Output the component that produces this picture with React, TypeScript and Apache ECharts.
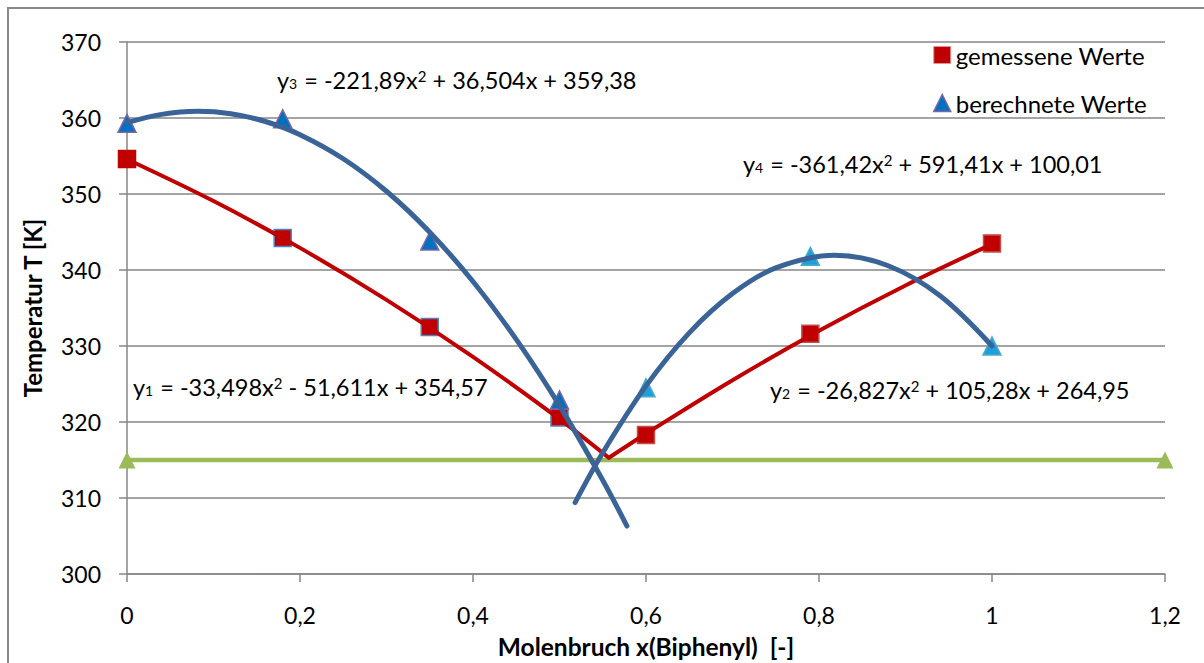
import React, { useEffect, useRef } from "react";
import * as echarts from "echarts";

// x ticks / axis range
const xTicks = [0, 0.2, 0.4, 0.6, 0.8, 1, 1.2];
const yTicks = [300, 310, 320, 330, 340, 350, 360, 370];

// measured values (red squares)
const measuredX = [0, 0.18, 0.35, 0.5, 0.6, 0.79, 1];
const measuredT = [354.6, 344.2, 332.5, 320.6, 318.3, 331.6, 343.5];

// calculated values (blue triangles)
const calcX = [0, 0.18, 0.35, 0.5, 0.6, 0.79, 1];
const calcT = [359.3, 359.9, 343.8, 322.9, 324.5, 341.8, 330.0];

// eutectic temperature line (green)
const eutX = [0, 1.2];
const eutT = [315, 315];

// trendlines
const trendY1X = [0, 0.1, 0.2, 0.3, 0.4, 0.5, 0.557];
const trendY1T = [354.57, 349.07, 342.91, 336.07, 328.57, 320.39, 315.3];
const trendY2X = [0.557, 0.6, 0.7, 0.8, 0.9, 1.0];
const trendY2T = [315.3, 318.46, 325.5, 332.01, 337.97, 343.4];
const trendY3X = [0, 0.04, 0.082, 0.12, 0.16, 0.2, 0.25, 0.3, 0.35, 0.4, 0.45, 0.5, 0.55, 0.578];
const trendY3T = [359.38, 360.48, 360.88, 360.56, 359.54, 357.81, 354.64, 350.36, 344.97, 338.48, 330.87, 322.16, 312.34, 306.3];
const trendY4X = [0.518, 0.55, 0.6, 0.65, 0.7, 0.75, 0.818, 0.88, 0.94, 1.0];
const trendY4T = [309.4, 315.96, 324.75, 331.73, 336.9, 340.27, 341.94, 340.56, 336.61, 330.0];

const equations = [
  { sub: "3", parts: ["-221,89x", " + 36,504x + 359,38"] },
  { sub: "4", parts: ["-361,42x", " + 591,41x + 100,01"] },
  { sub: "1", parts: ["-33,498x", " - 51,611x + 354,57"] },
  { sub: "2", parts: ["-26,827x", " + 105,28x + 264,95"] },
];

const FONT = "Lato, 'Noto Sans', sans-serif";

const zip = (xs: number[], ys: number[]) => xs.map((x, i) => [x, ys[i]]);

export default function App() {
  const ref = useRef<HTMLDivElement>(null);
  useEffect(() => {
    if (!ref.current) return;
    const chart = echarts.init(ref.current, undefined, { renderer: "svg" });

    const squareBorders = ["#C00000", "#4F81BD", "#4F81BD", "#4F81BD", "#C0504D", "#C0504D", "#C0504D"];
    const triFill = ["#0070C0", "#0070C0", "#0070C0", "#0070C0", "#1E9FDB", "#1E9FDB", "#1E9FDB"];
    const triBorder = ["#8064A2", "#8064A2", "#8064A2", "#8064A2", "#4BACC6", "#4BACC6", "#4BACC6"];

    const eqPos = [
      [277, 80],
      [743, 164],
      [133, 387],
      [770, 390],
    ];

    const richStyles = {
      a: { fontSize: 23.5, fontFamily: FONT, fill: "#000" },
      s: { fontSize: 14, fontFamily: FONT, fill: "#000", verticalAlign: "bottom", padding: [0, 1, 2, 0] },
      p: { fontSize: 15, fontFamily: FONT, fill: "#000", verticalAlign: "top" },
    };

    const lineSeries = (data: number[][], color: string, width: number) => ({
      type: "line",
      data,
      smooth: 0.35,
      showSymbol: false,
      symbol: "none",
      lineStyle: { color, width, cap: "round", join: "round" },
      z: 5,
      silent: true,
    });

    chart.setOption({
      animation: false,
      backgroundColor: "#fff",
      grid: { left: 127, right: 39, top: 42, bottom: 89, containLabel: false },
      xAxis: {
        type: "value",
        min: xTicks[0],
        max: xTicks[xTicks.length - 1],
        interval: 0.2,
        axisLine: { show: true, onZero: false, lineStyle: { color: "#868686", width: 1.5 } },
        axisTick: { show: true, length: 8, lineStyle: { color: "#868686", width: 1.5 } },
        splitLine: { show: false },
        axisLabel: {
          margin: 29,
          fontSize: 23,
          fontFamily: FONT,
          color: "#000",
          formatter: (v: number) => String(Math.round(v * 10) / 10).replace(".", ","),
        },
      },
      yAxis: {
        type: "value",
        min: yTicks[0],
        max: yTicks[yTicks.length - 1],
        interval: 10,
        axisLine: { show: true, lineStyle: { color: "#868686", width: 1.5 } },
        axisTick: { show: true, length: 8, lineStyle: { color: "#868686", width: 1.5 } },
        splitLine: { show: true, lineStyle: { color: "#868686", width: 1.5 } },
        axisLabel: { margin: 26, fontSize: 23, fontFamily: FONT, color: "#000" },
      },
      legend: {
        orient: "vertical",
        left: 928,
        top: 36,
        padding: 5,
        itemWidth: 17,
        itemHeight: 17,
        itemGap: 20,
        textStyle: { fontSize: 24, fontFamily: FONT, color: "#000", lineHeight: 28 },
        data: [
          { name: "gemessene Werte", icon: "rect", itemStyle: { color: "#C00000", borderColor: "#D99694", borderWidth: 1, opacity: 1 } },
          { name: "berechnete Werte", icon: "triangle", itemStyle: { color: "#0070C0", borderColor: "#8064A2", borderWidth: 1.5, opacity: 1 } },
        ],
      },
      series: [
        {
          name: "eutektikum",
          type: "line",
          data: zip(eutX, eutT),
          symbol: "triangle",
          symbolSize: 17,
          itemStyle: { color: "#9BBB59" },
          lineStyle: { color: "#9BBB59", width: 4.5 },
          z: 3,
        },
        {
          name: "gemessene Werte",
          type: "scatter",
          symbol: "rect",
          symbolSize: 17,
          data: zip(measuredX, measuredT).map((d, i) => ({
            value: d,
            itemStyle: { color: "#C00000", borderColor: squareBorders[i], borderWidth: 1.5, opacity: 1 },
          })),
          itemStyle: { color: "#C00000", opacity: 1 },
          z: 4,
        },
        {
          name: "berechnete Werte",
          type: "scatter",
          symbol: "triangle",
          symbolSize: 18,
          data: zip(calcX, calcT).map((d, i) => ({
            value: d,
            itemStyle: { color: triFill[i], borderColor: triBorder[i], borderWidth: 1.5, opacity: 1 },
          })),
          itemStyle: { color: "#0070C0", opacity: 1 },
          z: 4,
        },
        lineSeries(zip(trendY1X, trendY1T), "#C00000", 4),
        lineSeries(zip(trendY2X, trendY2T), "#C00000", 4),
        lineSeries(zip(trendY3X, trendY3T), "#3A6497", 5),
        lineSeries(zip(trendY4X, trendY4T), "#3A6497", 5),
      ],
      graphic: [
        {
          type: "rect",
          shape: { x: 8, y: 8, width: 1210, height: 670 },
          style: { fill: "none", stroke: "#898989", lineWidth: 2 },
          silent: true,
          z: 0,
        },
        ...equations.map((eq, i) => ({
          type: "text",
          x: eqPos[i][0],
          y: eqPos[i][1],
          z: 10,
          style: {
            text: `{a|y}{s|${eq.sub}}{a| = ${eq.parts[0]}}{p|2}{a|${eq.parts[1]}}`,
            rich: richStyles,
            fontSize: 23.5,
            fontFamily: FONT,
            fill: "#000",
            verticalAlign: "middle",
            align: "left",
          },
        })),
        {
          type: "text",
          x: 646,
          y: 646,
          z: 10,
          style: {
            text: "Molenbruch x(Biphenyl)  [-]",
            fontSize: 24.5,
            fontWeight: "bold",
            fontFamily: FONT,
            fill: "#000",
            align: "center",
            verticalAlign: "middle",
          },
        },
        {
          type: "text",
          x: 32,
          y: 308,
          rotation: Math.PI / 2,
          z: 10,
          style: {
            text: "Temperatur T [K]",
            fontSize: 24,
            fontWeight: "bold",
            fontFamily: FONT,
            fill: "#000",
            align: "center",
            verticalAlign: "middle",
          },
        },
      ],
    });
    return () => chart.dispose();
  }, []);

  return (
    <div
      ref={ref}
      style={{ position: "fixed", left: 0, top: 0, width: 1204, height: 663, background: "#fff" }}
    />
  );
}
